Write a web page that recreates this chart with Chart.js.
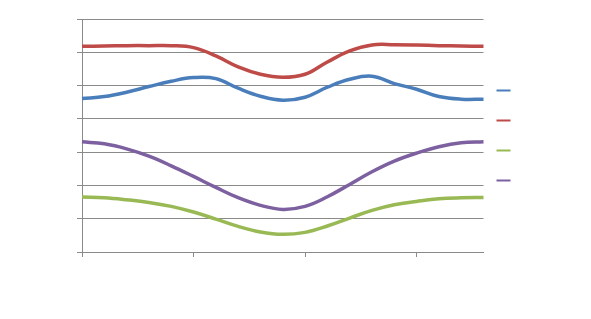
<!DOCTYPE html>
<html>
<head>
<meta charset="utf-8">
<script src="https://cdn.jsdelivr.net/npm/chart.js@4.4.1/dist/chart.umd.min.js"></script>
<style>
  html, body { margin: 0; padding: 0; background: #fff; }
  #wrap { width: 591px; height: 319px; }
</style>
</head>
<body>
<div id="wrap"><canvas id="lineChart"></canvas></div>
<script>
// categories (19 points, tick mark every 5th)
var categories = ['1','2','3','4','5','6','7','8','9','10','11','12','13','14','15','16','17','18','19'];

var seriesNames = ['', '', '', ''];

var blueData   = [4.61, 4.67, 4.80, 4.97, 5.13, 5.24, 5.21, 4.92, 4.68, 4.56, 4.65, 4.95, 5.19, 5.28, 5.06, 4.89, 4.67, 4.59, 4.59];
var redData    = [6.18, 6.19, 6.20, 6.20, 6.20, 6.14, 5.89, 5.56, 5.34, 5.25, 5.34, 5.71, 6.04, 6.22, 6.23, 6.22, 6.20, 6.19, 6.18];
var greenData  = [1.65, 1.63, 1.57, 1.49, 1.37, 1.20, 0.99, 0.77, 0.60, 0.53, 0.59, 0.78, 1.02, 1.25, 1.42, 1.52, 1.60, 1.63, 1.64];
var purpleData = [3.31, 3.25, 3.10, 2.88, 2.59, 2.27, 1.94, 1.63, 1.40, 1.28, 1.37, 1.66, 2.03, 2.41, 2.73, 2.97, 3.16, 3.28, 3.31];

var yMin = 0, yMax = 7, yStep = 1;
var xTickEvery = 5;

var colors = ['#4a7ebb', '#be4b48', '#98b954', '#7d60a0'];
var axisColor = '#8a8a8a';

function makeSet(name, data, color) {
    return {
        label: name,
        data: data,
        borderColor: color,
        backgroundColor: color,
        borderWidth: 3.5,
        pointRadius: 0,
        pointHoverRadius: 0,
        tension: 0.4,
        fill: false
    };
}

var ctx = document.getElementById('lineChart').getContext('2d');
var chart = new Chart(ctx, {
    type: 'line',
    data: {
        labels: categories,
        datasets: [
            makeSet(seriesNames[0], blueData, colors[0]),
            makeSet(seriesNames[1], redData, colors[1]),
            makeSet(seriesNames[2], greenData, colors[2]),
            makeSet(seriesNames[3], purpleData, colors[3])
        ]
    },
    options: {
        responsive: true,
        maintainAspectRatio: false,
        animation: false,
        layout: {
            padding: { left: 77, top: 19, bottom: 62, right: 62 }
        },
        plugins: {
            tooltip: { enabled: false },
            legend: {
                position: 'right',
                fullSize: false,
                labels: {
                    boxWidth: 14,
                    boxHeight: 2,
                    padding: 13,
                    font: { size: 17 },
                    generateLabels: function(chart) {
                        var items = Chart.defaults.plugins.legend.labels.generateLabels(chart);
                        items.forEach(function(it) { it.lineWidth = 0; it.text = ''; });
                        return items;
                    }
                }
            }
        },
        scales: {
            x: {
                offset: false,
                border: { color: axisColor, width: 1 },
                grid: {
                    drawOnChartArea: false,
                    tickLength: 5,
                    tickColor: function(c) {
                        return c.index % xTickEvery === 0 ? axisColor : 'rgba(0,0,0,0)';
                    }
                },
                ticks: { display: false, autoSkip: false }
            },
            y: {
                min: yMin,
                max: yMax,
                border: { color: axisColor, width: 1 },
                grid: { color: axisColor, lineWidth: 1, tickLength: 5 },
                ticks: { display: false, stepSize: yStep }
            }
        }
    }
});
</script>
</body>
</html>
